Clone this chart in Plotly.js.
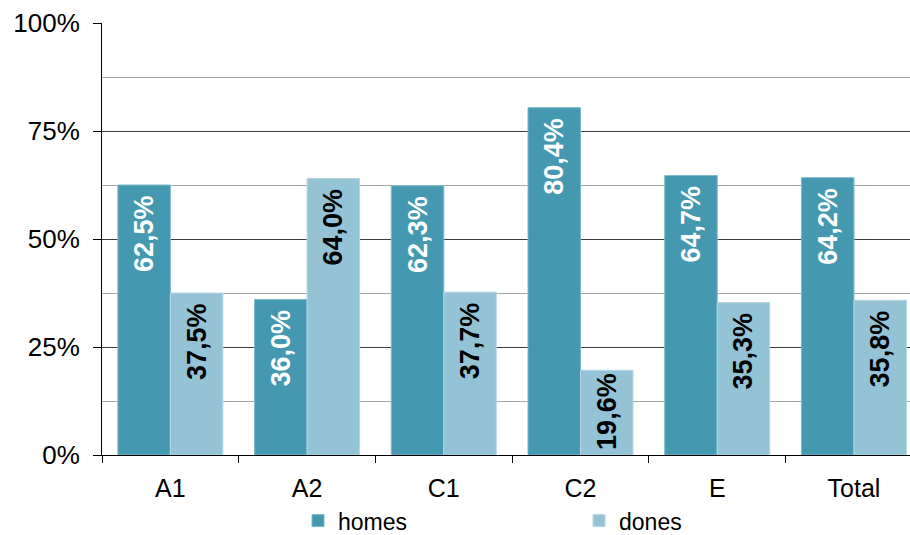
<!DOCTYPE html>
<html>
<head>
<meta charset="utf-8">
<script src="https://cdn.plot.ly/plotly-3.0.1.min.js"></script>
<style>html,body{margin:0;padding:0;background:#fff;}#chart{width:910px;height:535px;}</style>
</head>
<body>
<div id="chart"></div>
<script>
const categories = ["A1", "A2", "C1", "C2", "E", "Total"];
const homes = [0.625, 0.360, 0.623, 0.804, 0.647, 0.642];
const dones = [0.375, 0.640, 0.377, 0.196, 0.353, 0.358];
const seriesNames = ["homes", "dones"];

const FONT = "Arial, 'Liberation Sans', sans-serif";
// trailing no-break space nudges the label down from the bar end (skipped on short bars)
const tmpl = vals => vals.map(v => v > 0.3 ? "%{y:.1%}\u00A0" : "%{y:.1%}");

const traces = [
  {
    type: "bar", name: seriesNames[0], x: categories, y: homes,
    marker: {color: "#4499B1", line: {color: "#7DB9C9", width: 1}},
    texttemplate: tmpl(homes), textposition: "inside", insidetextanchor: "end",
    textangle: -90, textfont: {family: FONT, size: 27, color: "#ffffff", weight: "bold"},
    hoverinfo: "skip"
  },
  {
    type: "bar", name: seriesNames[1], x: categories, y: dones,
    marker: {color: "#93C3D5", line: {color: "#B5D7E3", width: 1}},
    texttemplate: tmpl(dones), textposition: "inside", insidetextanchor: "end",
    textangle: -90, textfont: {family: FONT, size: 27, color: "#000000", weight: "bold"},
    hoverinfo: "skip"
  }
];

const layout = {
  width: 910, height: 535,
  margin: {l: 102, r: 0, t: 23, b: 80, autoexpand: false},
  paper_bgcolor: "#ffffff", plot_bgcolor: "#ffffff",
  separators: ",.",
  font: {family: FONT, size: 25, color: "#000000"},
  barmode: "group", bargap: 0.232, bargroupgap: 0,
  showlegend: true,
  legend: {
    orientation: "h", x: 0.2426, xanchor: "left", y: -0.152, yanchor: "middle",
    font: {family: FONT, size: 23, color: "#000000"},
    entrywidth: 236, entrywidthmode: "pixels", traceorder: "normal",
    borderwidth: 0, bgcolor: "rgba(0,0,0,0)"
  },
  xaxis: {
    type: "category", range: [-0.5, 5.41], automargin: false,
    showline: true, linecolor: "#000000", linewidth: 1,
    ticks: "outside", tickson: "boundaries", ticklen: 7, tickcolor: "#000000",
    showgrid: false, zeroline: false,
    ticklabelstandoff: 11,
    tickfont: {family: FONT, size: 25, color: "#000000"}
  },
  yaxis: {
    range: [0, 1], dtick: 0.25, tick0: 0, tickformat: ".0%", automargin: false,
    showline: true, linecolor: "#000000", linewidth: 1,
    ticks: "outside", ticklen: 8, tickcolor: "#000000",
    showgrid: true, gridcolor: "#3c3c3c", gridwidth: 1,
    zeroline: false,
    ticklabelstandoff: 8,
    tickfont: {family: FONT, size: 26, color: "#000000"},
    minor: {dtick: 0.125, tick0: 0, showgrid: true, gridcolor: "#a6a6a6", gridwidth: 1, ticks: ""}
  }
};

Plotly.newPlot("chart", traces, layout, {displayModeBar: false, staticPlot: true});
</script>
</body>
</html>
